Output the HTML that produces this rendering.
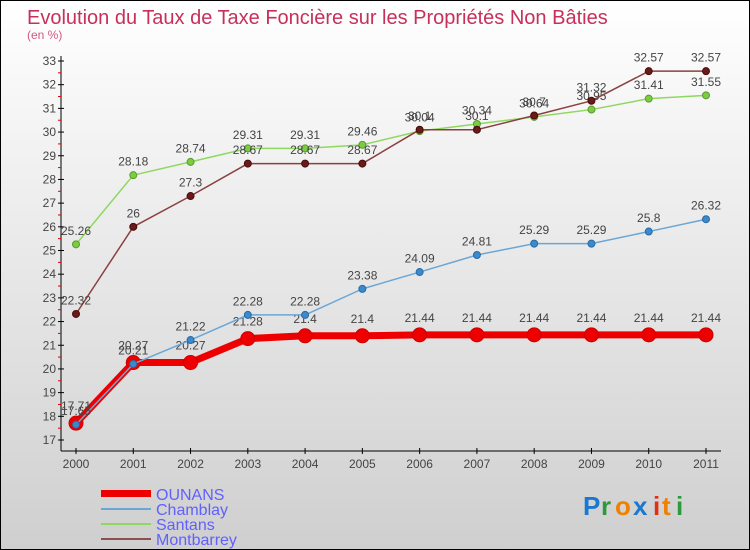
<!DOCTYPE html>
<html><head><meta charset="utf-8"><style>
body{margin:0}
#c{position:relative;width:748px;height:548px;border:1px solid #000;background:linear-gradient(#fff,#cfcfcf);font-family:"Liberation Sans",sans-serif;overflow:hidden}
svg text{font-family:"Liberation Sans",sans-serif}
</style></head><body>
<div id="c">
<svg id="s" width="748" height="548">
<text x="26" y="23" font-size="20" fill="#c8305a">Evolution du Taux de Taxe Foncière sur les Propriétés Non Bâties</text>
<text x="26" y="38" font-size="12" fill="#d05a80">(en %)</text>
<g id="axes"></g><g id="series"></g>
<g>
<rect x="100" y="489" width="50" height="7" fill="#e00"/>
<text x="155" y="499" font-size="16" fill="#6060ff">OUNANS</text>
<rect x="100" y="507" width="50" height="2" fill="#6aa6d6"/>
<text x="155" y="514" font-size="16" fill="#6060ff">Chamblay</text>
<rect x="100" y="522" width="50" height="2" fill="#8fd860"/>
<text x="155" y="529" font-size="16" fill="#6060ff">Santans</text>
<rect x="100" y="537" width="50" height="2" fill="#8a5050"/>
<text x="155" y="544" font-size="16" fill="#6060ff">Montbarrey</text>
</g>
<g font-size="26" font-weight="bold">
<text x="582" y="514" fill="#1a78d0">P</text><text x="600" y="514" fill="#2a9a3a">r</text><text x="614" y="514" fill="#f08000">o</text><text x="632" y="514" fill="#1a78d0">x</text><text x="652" y="514" fill="#e03010">i</text><text x="661" y="514" fill="#f08000">t</text><text x="675" y="514" fill="#2a9a3a">i</text>
</g>
</svg></div>
<script>
const years=["2000","2001","2002","2003","2004","2005","2006","2007","2008","2009","2010","2011"];
const yTicks=[17,18,19,20,21,22,23,24,25,26,27,28,29,30,31,32,33];
const ounans=[17.71,20.27,20.27,21.28,21.4,21.4,21.44,21.44,21.44,21.44,21.44,21.44];
const chamblay=[17.65,20.21,21.22,22.28,22.28,23.38,24.09,24.81,25.29,25.29,25.8,26.32];
const santans=[25.26,28.18,28.74,29.31,29.31,29.46,30.04,30.34,30.64,30.95,31.41,31.55];
const montbarrey=[22.32,26,27.3,28.67,28.67,28.67,30.1,30.1,30.7,31.32,32.57,32.57];
const NS="http://www.w3.org/2000/svg";
const x=i=>75+i*(630/11);
const y=v=>439-(v-17)*(379/16);
function mk(t,a,p){const e=document.createElementNS(NS,t);for(const k in a)e.setAttribute(k,a[k]);p.appendChild(e);return e;}
const ax=document.getElementById('axes'),se=document.getElementById('series');
let l=mk('line',{x1:60,y1:55,x2:60,y2:450,stroke:'#000'},ax);


l=mk('line',{x1:60,y1:450,x2:720,y2:450,stroke:'#000'},ax);


yTicks.forEach((v,i)=>{
 mk('line',{x1:57,y1:y(v),x2:63,y2:y(v),stroke:'#000'},ax);
 if(i<yTicks.length-1)mk('line',{x1:57,y1:y(v+0.5),x2:60,y2:y(v+0.5),stroke:'#d00'},ax);
 const t=mk('text',{x:55,y:y(v)+4,'font-size':12,fill:'#444','text-anchor':'end'},ax);
 t.textContent=v;
 
 
});
years.forEach((yr,i)=>{
 mk('line',{x1:x(i),y1:447,x2:x(i),y2:453,stroke:'#000'},ax);
 const t=mk('text',{x:x(i),y:467,'font-size':12,fill:'#444','text-anchor':'middle'},ax);
 t.textContent=yr;
 
 
});
function draw(vals,name,col,w,r,dot,dotStroke){
 const g=mk('g',{},se);
 
 
 const p=mk('polyline',{points:vals.map((v,i)=>x(i)+','+y(v)).join(' '),fill:'none',stroke:col,'stroke-width':w,'stroke-linejoin':'round'},g);
 
 
 vals.forEach((v,i)=>{
  const c=mk('circle',{cx:x(i),cy:y(v),r:r,fill:dot,stroke:dotStroke,'stroke-width':1},g);
  
  
  const t=mk('text',{x:x(i),y:y(v)-(r+6),'font-size':12,fill:'#444','text-anchor':'middle'},g);
  t.textContent=v;
  
  
 });
}
draw(santans,'santans','#8fd860',1.5,3.5,'#7ccc40','#5a9a30');
draw(montbarrey,'montbarrey','#8a4040',1.5,3.5,'#6a1a1a','#4a0a0a');
draw(ounans,'ounans','#e00',7,7,'#e00','#c00');
draw(chamblay,'chamblay','#6aa6d6',1.5,3.5,'#3a8ad0','#2a6aa0');
</script>
</body></html>
